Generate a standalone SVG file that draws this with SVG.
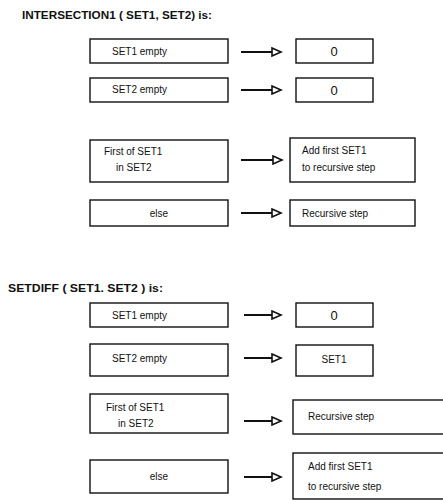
<svg xmlns="http://www.w3.org/2000/svg" width="443" height="500" viewBox="0 0 443 500">
<style>
.bg{fill:#fff}
.box{fill:#fff;stroke:#111;stroke-width:1.4}
.t{font-family:"Liberation Sans",Arial,sans-serif;font-size:10px;fill:#111}
.h{font-family:"Liberation Sans",Arial,sans-serif;font-size:10px;font-weight:bold;fill:#111}
.z{font-family:"Liberation Sans",Arial,sans-serif;font-size:13px;fill:#111}
.c{text-anchor:middle}
.ln{stroke:#111;stroke-width:2;fill:none}
</style>
<defs>
<marker id="ah" markerWidth="12" markerHeight="10" refX="10" refY="5" orient="auto" markerUnits="userSpaceOnUse">
<path d="M1,1 L10,5 L1,9 Z" fill="#fff" stroke="#111" stroke-width="1.6"/>
</marker>
</defs>
<rect class="bg" x="0" y="0" width="443" height="500"/>

<text class="h" x="22" y="19" textLength="190" lengthAdjust="spacingAndGlyphs">INTERSECTION1 ( SET1, SET2) is:</text>
<text class="h" x="8" y="292" textLength="155" lengthAdjust="spacingAndGlyphs">SETDIFF ( SET1. SET2 ) is:</text>

<g id="connectors">
<line class="ln" x1="241" y1="52" x2="281" y2="52" marker-end="url(#ah)"/>
<line class="ln" x1="241" y1="90" x2="281" y2="90" marker-end="url(#ah)"/>
<line class="ln" x1="241" y1="160" x2="282" y2="160" marker-end="url(#ah)"/>
<line class="ln" x1="241" y1="213" x2="281" y2="213" marker-end="url(#ah)"/>
<line class="ln" x1="244" y1="315" x2="281" y2="315" marker-end="url(#ah)"/>
<line class="ln" x1="244" y1="358" x2="281" y2="358" marker-end="url(#ah)"/>
<line class="ln" x1="244" y1="421" x2="281" y2="421" marker-end="url(#ah)"/>
<line class="ln" x1="244" y1="477" x2="281" y2="477" marker-end="url(#ah)"/>
</g>

<g id="i-set1-empty"><rect class="box" x="90" y="39" width="138" height="24"/><text class="t" x="112" y="55">SET1 empty</text></g>
<g id="i-zero1"><rect class="box" x="296" y="39" width="77" height="24"/><text class="z c" x="334" y="56">0</text></g>
<g id="i-set2-empty"><rect class="box" x="90" y="78" width="138" height="24"/><text class="t" x="112" y="93">SET2 empty</text></g>
<g id="i-zero2"><rect class="box" x="296" y="78" width="77" height="24"/><text class="z c" x="334" y="95">0</text></g>
<g id="i-first"><rect class="box" x="90" y="140" width="138" height="42"/><text class="t" x="104" y="155">First of SET1</text><text class="t" x="116" y="171">in SET2</text></g>
<g id="i-add"><rect class="box" x="290" y="138" width="125" height="44"/><text class="t" x="302" y="154">Add first SET1</text><text class="t" x="302" y="171">to recursive step</text></g>
<g id="i-else"><rect class="box" x="90" y="200" width="138" height="26"/><text class="t c" x="159" y="217">else</text></g>
<g id="i-rec"><rect class="box" x="290" y="200" width="125" height="26"/><text class="t" x="302" y="217">Recursive step</text></g>

<g id="d-set1-empty"><rect class="box" x="90" y="303" width="138" height="24"/><text class="t" x="112" y="319">SET1 empty</text></g>
<g id="d-zero"><rect class="box" x="296" y="303" width="77" height="24"/><text class="z c" x="334" y="320">0</text></g>
<g id="d-set2-empty"><rect class="box" x="90" y="344" width="138" height="32"/><text class="t" x="112" y="362">SET2 empty</text></g>
<g id="d-set1"><rect class="box" x="296" y="345" width="77" height="31"/><text class="t c" x="334" y="363">SET1</text></g>
<g id="d-first"><rect class="box" x="90" y="394" width="138" height="39"/><text class="t" x="106" y="411">First of SET1</text><text class="t" x="118" y="427">in SET2</text></g>
<g id="d-rec"><rect class="box" x="293" y="400" width="160" height="34"/><text class="t" x="308" y="420">Recursive step</text></g>
<g id="d-else"><rect class="box" x="90" y="460" width="138" height="33"/><text class="t c" x="159" y="480">else</text></g>
<g id="d-add"><rect class="box" x="293" y="453" width="160" height="46"/><text class="t" x="308" y="470">Add first SET1</text><text class="t" x="308" y="490">to recursive step</text></g>
</svg>
